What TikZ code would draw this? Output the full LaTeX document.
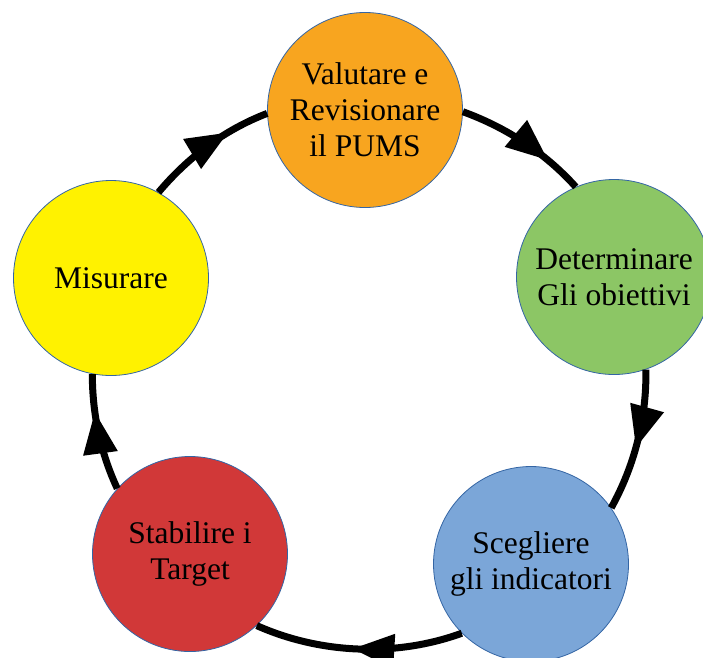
\documentclass[tikz,border=0pt]{standalone}
\usepackage{fontspec}
\setmainfont{Liberation Serif}
\usepackage{tikz}
\usetikzlibrary{arrows.meta}
\usetikzlibrary{decorations.markings}

\definecolor{cvalutare}{HTML}{F8A51F}
\definecolor{cdetermina}{HTML}{8CC665}
\definecolor{cscegliere}{HTML}{7BA6D8}
\definecolor{cstabilire}{HTML}{D13838}
\definecolor{cmisurare}{HTML}{FFF200}
\definecolor{cborder}{HTML}{3465A4}

\begin{document}
\begin{tikzpicture}[x=1pt,y=-1pt]
			\tikzset{phase/.style = {shape=circle,draw=cborder,line width=0.8pt,minimum size=195pt,inner sep=0pt,align=center,font=\fontsize{31.5}{36}\selectfont}}
			\tikzset{ring/.style = {line width=7pt,draw=black,looseness=0.87,
				decoration={markings,mark=at position #1 with {\arrow{Triangle[length=42pt,width=33pt]}}},
				postaction={decorate}}}
			\useasboundingbox (0,0) rectangle (703,657);
			% phases
			\node[phase,fill=cvalutare] (valutare) at (365,110) {Valutare e\\Revisionare\\il PUMS};
			\node[phase,fill=cdetermina] (determinare) at (614,277) {Determinare\\Gli obiettivi};
			\node[phase,fill=cscegliere] (scegliere) at (531,564) {Scegliere\\gli indicatori};
			\node[phase,fill=cstabilire] (stabilire) at (190,554) {Stabilire i\\Target};
			\node[phase,fill=cmisurare] (misurare) at (111,278) {Misurare};
			% cycle
			\draw[ring=0.72] (valutare.-1) to[out=-20,in=132] (determinare.113);
			\draw[ring=0.55] (determinare.-71) to[out=-89,in=61] (scegliere.35);
			\draw[ring=0.53] (scegliere.-135) to[out=-160,in=-24] (stabilire.-47);
			\draw[ring=0.68] (stabilire.138) to[out=115,in=-90] (misurare.-101);
			\draw[ring=0.68] (misurare.61) to[out=50,in=201] (valutare.182);
		\end{tikzpicture}
\end{document}
